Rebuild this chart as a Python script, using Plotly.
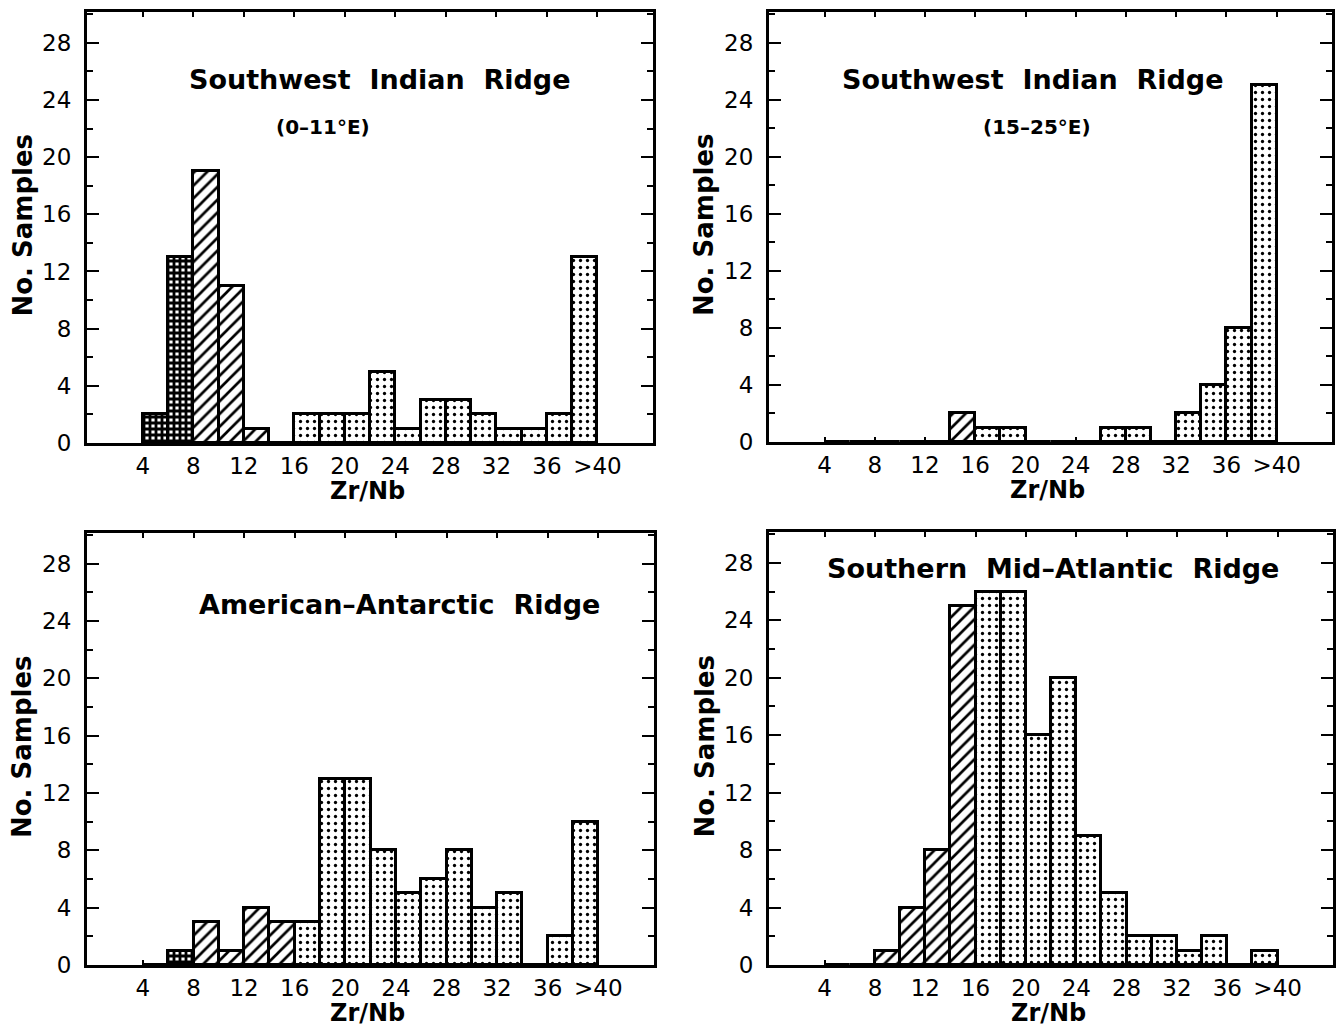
import plotly.graph_objects as go

# ---------------- data ----------------
bin_left = [4, 6, 8, 10, 12, 14, 16, 18, 20, 22, 24, 26, 28, 30, 32, 34, 36, 38]
x_tick_vals = [4, 8, 12, 16, 20, 24, 28, 32, 36, 40]
x_tick_text = ["4", "8", "12", "16", "20", "24", "28", "32", "36", ">40"]
y_tick_vals = [0, 4, 8, 12, 16, 20, 24, 28]

# counts per Zr/Nb bin (bins of width 2, starting at bin_left)
swir_0_11 = [2, 13, 19, 11, 1, 0, 2, 2, 2, 5, 1, 3, 3, 2, 1, 1, 2, 13]
swir_0_11_class = ["E", "E", "T", "T", "T", "N", "N", "N", "N", "N", "N", "N", "N", "N", "N", "N", "N", "N"]

swir_15_25 = [0, 0, 0, 0, 0, 2, 1, 1, 0, 0, 0, 1, 1, 0, 2, 4, 8, 25]
swir_15_25_class = ["N", "N", "N", "N", "N", "T", "N", "N", "N", "N", "N", "N", "N", "N", "N", "N", "N", "N"]

aar = [0, 1, 3, 1, 4, 3, 3, 13, 13, 8, 5, 6, 8, 4, 5, 0, 2, 10]
aar_class = ["N", "E", "T", "T", "T", "T", "N", "N", "N", "N", "N", "N", "N", "N", "N", "N", "N", "N"]

smar = [0, 0, 1, 4, 8, 25, 26, 26, 16, 20, 9, 5, 2, 2, 1, 2, 0, 1]
smar_class = ["N", "N", "T", "T", "T", "T", "N", "N", "N", "N", "N", "N", "N", "N", "N", "N", "N", "N"]

titles = ["Southwest  Indian  Ridge", "Southwest  Indian  Ridge",
          "American\u2013Antarctic  Ridge", "Southern  Mid\u2013Atlantic  Ridge"]
subtitles = ["(0\u201311\u00b0E)", "(15\u201325\u00b0E)", "", ""]

# ---------------- styling ----------------
W, H = 1337, 1029
FONT = "DejaVu Sans"

def px_x(p):
    return p / W

def px_y(p):
    return 1 - p / H

# panel frames in pixels: (left, right, top, bottom)
frames = [(87, 653, 12, 443), (769, 1332, 12, 442), (87, 654, 533, 965), (769, 1333, 532, 965)]

pattern_map = {
    "E": dict(shape="+", size=6, solidity=0.72),
    "T": dict(shape="/", size=9, solidity=0.3),
    "N": dict(shape=".", size=7, solidity=0.17),
}

panels = [(swir_0_11, swir_0_11_class), (swir_15_25, swir_15_25_class),
          (aar, aar_class), (smar, smar_class)]

fig = go.Figure()
layout_axes = {}
annotations = []

for i, ((vals, cls), (l, r, t, b)) in enumerate(zip(panels, frames)):
    n = i + 1
    xa = "x" if n == 1 else f"x{n}"
    ya = "y" if n == 1 else f"y{n}"
    fig.add_trace(go.Bar(
        x=[v + 1 for v in bin_left], y=vals, width=2,
        xaxis=xa, yaxis=ya,
        marker=dict(
            color="white",
            line=dict(color="black", width=3),
            pattern=dict(
                shape=[pattern_map[c]["shape"] for c in cls],
                size=[pattern_map[c]["size"] for c in cls],
                solidity=[pattern_map[c]["solidity"] for c in cls],
                fgcolor="black", bgcolor="white", fillmode="replace",
            ),
        ),
        showlegend=False, hoverinfo="skip",
    ))
    xkey = "xaxis" if n == 1 else f"xaxis{n}"
    ykey = "yaxis" if n == 1 else f"yaxis{n}"
    layout_axes[xkey] = dict(
        domain=[px_x(l), px_x(r)], anchor=ya, range=[-0.42, 44.4],
        tickvals=x_tick_vals, ticktext=x_tick_text,
        ticks="inside", ticklen=5, tickwidth=2, tickcolor="black",
        showline=True, linewidth=3, linecolor="black", mirror="ticks",
        showgrid=False, zeroline=False, automargin=False,
        tickfont=dict(family=FONT, size=23, color="black"),
    )
    layout_axes[ykey] = dict(
        domain=[px_y(b), px_y(t)], anchor=xa, range=[0, 30.15],
        tickvals=y_tick_vals,
        ticks="inside", ticklen=12, tickwidth=2, tickcolor="black",
        minor=dict(dtick=2, tick0=0, ticks="inside", ticklen=6, tickwidth=2, tickcolor="black"),
        showline=True, linewidth=3, linecolor="black", mirror="ticks",
        showgrid=False, zeroline=False, automargin=False,
        ticklabelstandoff=8,
        tickfont=dict(family=FONT, size=23, color="black"),
    )
    # axis titles
    annotations.append(dict(
        text="<b>Zr/Nb</b>", xref="paper", yref="paper",
        x=px_x((l + r) / 2 - 3), y=px_y(b + 48), xanchor="center", yanchor="middle",
        showarrow=False, font=dict(family=FONT, size=24, color="black"),
    ))
    annotations.append(dict(
        text="<b>No. Samples</b>", xref="paper", yref="paper", textangle=-90,
        x=px_x(l - 65), y=px_y((t + b) / 2 - 2), xanchor="center", yanchor="middle",
        showarrow=False, font=dict(family=FONT, size=26, color="black"),
    ))

# panel titles
title_pos = [(379, 80), (1032, 80), (399, 604), (1053, 568)]
sub_pos = [(323, 127), (1037, 127), None, None]
for i in range(4):
    annotations.append(dict(
        text="<b>" + titles[i] + "</b>", xref="paper", yref="paper",
        x=px_x(title_pos[i][0]), y=px_y(title_pos[i][1]), xanchor="center", yanchor="middle",
        showarrow=False, font=dict(family=FONT, size=27, color="black"),
    ))
    if subtitles[i]:
        annotations.append(dict(
            text="<b>" + subtitles[i] + "</b>", xref="paper", yref="paper",
            x=px_x(sub_pos[i][0]), y=px_y(sub_pos[i][1]), xanchor="center", yanchor="middle",
            showarrow=False, font=dict(family=FONT, size=20, color="black"),
        ))

fig.update_layout(
    width=W, height=H, margin=dict(l=0, r=0, t=0, b=0),
    paper_bgcolor="white", plot_bgcolor="white",
    bargap=0, annotations=annotations, **layout_axes,
)

fig.write_html("out.html", config={"displayModeBar": False},
               post_script="document.body.style.margin='0';")
